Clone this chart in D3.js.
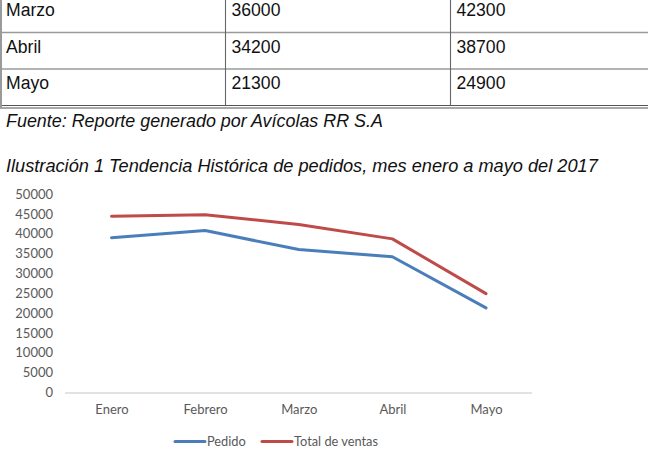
<!DOCTYPE html>
<html>
<head>
<meta charset="utf-8">
<script src="https://cdn.jsdelivr.net/npm/d3@7"></script>
<style>
  html, body { margin: 0; padding: 0; background: #fff; }
  svg { display: block; }
</style>
</head>
<body>
<svg id="chart" width="648" height="473"></svg>
<script>
// ---- data ----
const months = ["Enero", "Febrero", "Marzo", "Abril", "Mayo"];
const pedido = [39000, 40800, 36000, 34200, 21300];
const totalVentas = [44400, 44800, 42300, 38700, 24900];
const yTicks = [0, 5000, 10000, 15000, 20000, 25000, 30000, 35000, 40000, 45000, 50000];
const seriesNames = ["Pedido", "Total de ventas"];
const seriesColors = ["#4a7ebb", "#be4b48"];
const tableStart = 2; // table visible rows: Marzo..Mayo
const sourceText = "Fuente: Reporte generado por Avícolas RR S.A";
const captionText = "Ilustración 1 Tendencia Histórica de pedidos, mes enero a mayo del 2017";

const svg = d3.select("#chart");
const W = 648, H = 473;
svg.append("rect").attr("width", W).attr("height", H).attr("fill", "#fff");

// ---- table (partial, top of page) ----
const tbl = svg.append("g");
const rowTops = [-4, 32.5, 69];
const colX = [0, 225.5, 450.5];
const tableFont = "'Liberation Sans', Arial, sans-serif";
const tRows = months.slice(tableStart).map((m, i) => [m, pedido[tableStart + i], totalVentas[tableStart + i]]);
tRows.forEach((r, i) => {
  r.forEach((v, j) => {
    tbl.append("text")
      .attr("x", colX[j] + 6)
      .attr("y", rowTops[i] + 20)
      .attr("font-family", tableFont)
      .attr("font-size", 17.6)
      .attr("fill", "#111")
      .text(v);
  });
});
// horizontal lines
[32.5, 69].forEach(y => tbl.append("line").attr("x1", 0).attr("x2", W).attr("y1", y).attr("y2", y)
  .attr("stroke", "#9a9a9a").attr("stroke-width", 1.6));
[105.5, 108].forEach(y => tbl.append("line").attr("x1", 0).attr("x2", W).attr("y1", y).attr("y2", y)
  .attr("stroke", "#555").attr("stroke-width", 1.1));
// vertical lines
tbl.append("line").attr("x1", 1).attr("x2", 1).attr("y1", 0).attr("y2", 108).attr("stroke", "#9a9a9a").attr("stroke-width", 2);
[225.5, 450.5].forEach(x => tbl.append("line").attr("x1", x).attr("x2", x).attr("y1", 0).attr("y2", 105.5)
  .attr("stroke", "#666").attr("stroke-width", 1.1));

// captions
svg.append("text").attr("x", 6).attr("y", 127)
  .attr("font-family", tableFont).attr("font-style", "italic").attr("font-size", 17.9).attr("fill", "#111")
  .text(sourceText);
svg.append("text").attr("x", 6).attr("y", 172)
  .attr("font-family", tableFont).attr("font-style", "italic").attr("font-size", 18.2).attr("fill", "#111")
  .text(captionText);

// ---- line chart ----
const x = d3.scalePoint().domain(months).range([111.5, 486]);
const y = d3.scaleLinear().domain([0, 50000]).range([392.5, 194]);
const labelFont = "Lato, 'Open Sans', sans-serif";
const labelColor = "#595959";

// y axis labels
const yAxis = d3.axisLeft(y).tickValues(yTicks).tickSize(0).tickPadding(0).tickFormat(d3.format("d"));
const gy = svg.append("g").attr("transform", "translate(53,0)").call(yAxis);
gy.select(".domain").remove();
gy.selectAll("text").attr("font-family", labelFont).attr("font-size", 13).attr("fill", labelColor);

// x axis
const xAxis = d3.axisBottom(x).tickSize(0).tickPadding(12);
const gx = svg.append("g").attr("transform", `translate(0,${y(0)})`).call(xAxis);
gx.select(".domain").attr("d", "M65,0.5H532").attr("stroke", "#d9d9d9").attr("stroke-width", 1.3);
gx.selectAll("text").attr("font-family", labelFont).attr("font-size", 13).attr("fill", labelColor);

// lines
const series = [pedido, totalVentas];
const line = d3.line().x((d, i) => x(months[i])).y(d => y(d));
series.forEach((s, k) => {
  svg.append("path").datum(s)
    .attr("d", line)
    .attr("fill", "none")
    .attr("stroke", seriesColors[k])
    .attr("stroke-width", 3)
    .attr("stroke-linejoin", "round")
    .attr("stroke-linecap", "round");
});

// legend
const legendX = [175, 262];
const legendY = 441.5;
seriesNames.forEach((n, k) => {
  const g = svg.append("g").attr("transform", `translate(${legendX[k]},${legendY})`);
  g.append("line").attr("x1", 0).attr("x2", 30).attr("y1", 0).attr("y2", 0)
    .attr("stroke", seriesColors[k]).attr("stroke-width", 3).attr("stroke-linecap", "round");
  g.append("text").attr("x", 32).attr("y", 4.5)
    .attr("font-family", labelFont).attr("font-size", 12.8).attr("fill", labelColor).text(n);
});
</script>
</body>
</html>
